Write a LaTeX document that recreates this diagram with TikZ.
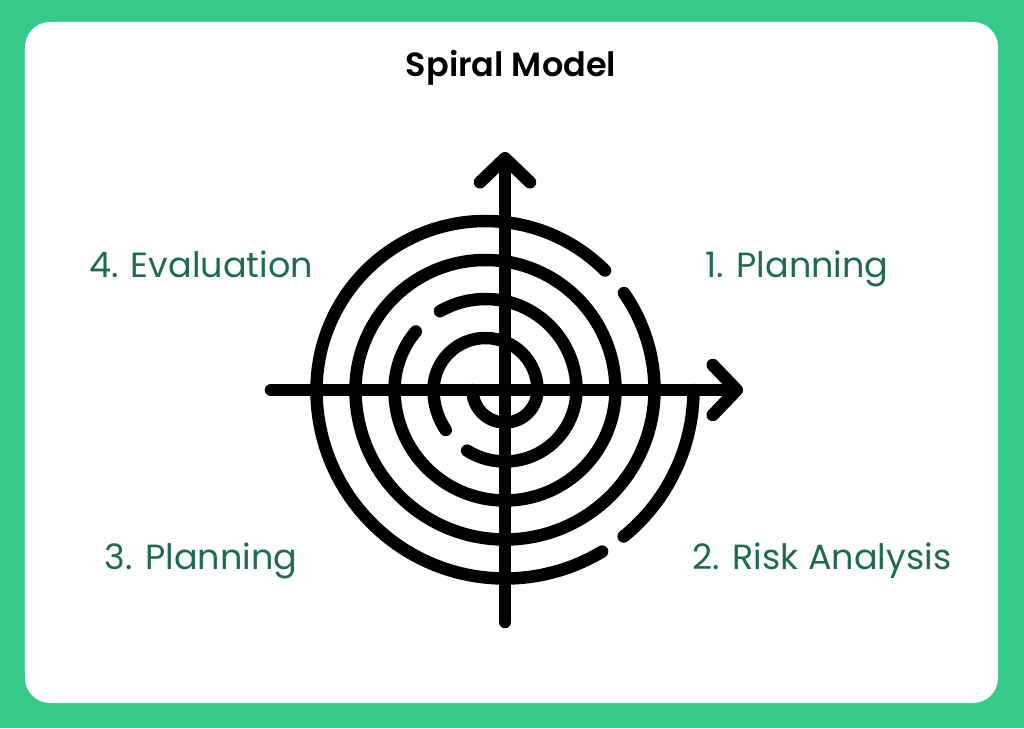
\documentclass[tikz,border=0pt]{standalone}
\usepackage{fontspec}
\setmainfont{Poppins}[BoldFont={Poppins SemiBold}]
\usetikzlibrary{arrows.meta}
\definecolor{framegreen}{HTML}{36C98A}
\definecolor{labelgreen}{HTML}{1F6B50}
\begin{document}
\begin{tikzpicture}[x=1pt, y=1pt,
  every node/.style={font=\fontsize{35}{40}\selectfont, text=labelgreen,
                     inner sep=0pt, anchor=base},
  spiral/.style={line width=12.5pt, line cap=round},
  axis/.style={line width=12.5pt, line cap=round,
               -{Straight Barb[length=24pt, width=50pt, line cap=round, line join=round]}}
]
\fill[framegreen] (-505,-338) rectangle (519,390);
\fill[white, rounded corners=25pt] (-480,368) rectangle (493,-313);
\node[text=black, font=\fontsize{33.5}{40}\selectfont\bfseries] (title) at (6,313) {Spiral Model};
\node (eval) at (-304,113) {4. Evaluation};
\node (plan) at (292,113) {1. Planning};
\node (plan3) at (-304,-179) {3. Planning};
\node (risk) at (317,-179) {2. Risk Analysis};
\coordinate (west) at (-234,0);
\coordinate (east) at (238,0);
\coordinate (south) at (0,-232);
\coordinate (north) at (0,238);
\draw[spiral] (-32.5,0) arc[start angle=180, end angle=360, radius=32.5]
  arc[start angle=0, end angle=180, radius=52]
  arc[start angle=180, end angle=214, radius=71.5];
\draw[spiral] (238:71.5) arc[start angle=238, end angle=360, radius=71.5]
  arc[start angle=0, end angle=120, radius=91];
\draw[spiral] (-19.5,0) ++(140:91) arc[start angle=140, end angle=180, radius=91]
  arc[start angle=180, end angle=360, radius=110.5]
  arc[start angle=0, end angle=180, radius=130]
  arc[start angle=180, end angle=360, radius=149.5]
  arc[start angle=0, end angle=35, radius=169];
\draw[spiral] (-19.5,0) ++(45:169) arc[start angle=45, end angle=180, radius=169]
  arc[start angle=180, end angle=301, radius=188.5];
\draw[spiral] (309:188.5) arc[start angle=309, end angle=360, radius=188.5];
\draw[axis] (west) -- (east);
\draw[axis] (south) -- (north);
\end{tikzpicture}
\end{document}
